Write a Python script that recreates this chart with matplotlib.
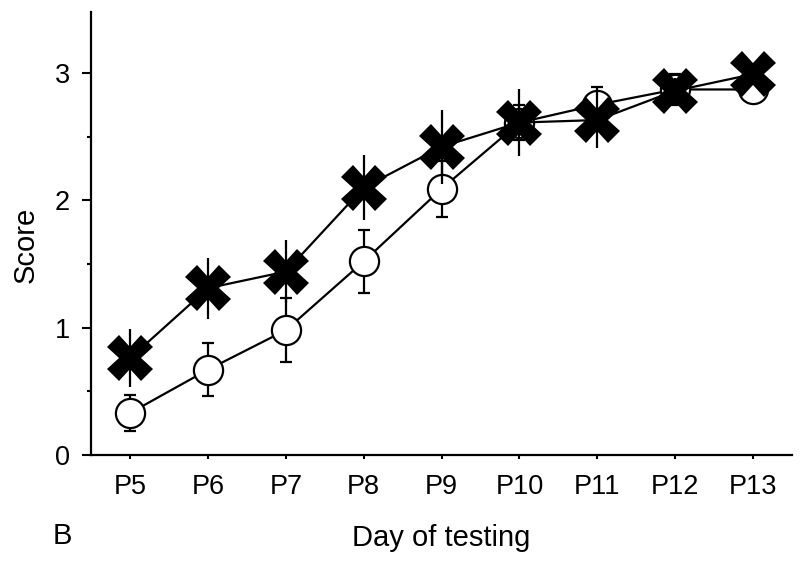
import matplotlib
matplotlib.use("Agg")
import matplotlib.pyplot as plt
from matplotlib.ticker import MultipleLocator

plt.rcParams['font.family'] = ['Liberation Sans', 'DejaVu Sans']

# data
days = ['P5', 'P6', 'P7', 'P8', 'P9', 'P10', 'P11', 'P12', 'P13']
circle_mean = [0.33, 0.67, 0.98, 1.52, 2.09, 2.61, 2.75, 2.87, 2.87]
circle_err = [0.14, 0.21, 0.25, 0.245, 0.22, 0.14, 0.14, 0.12, 0.0]
cross_mean = [0.76, 1.31, 1.44, 2.10, 2.42, 2.61, 2.63, 2.86, 2.99]
cross_err = [0.23, 0.24, 0.25, 0.255, 0.29, 0.26, 0.22, 0.10, 0.0]

x = list(range(len(days)))

fig = plt.figure(figsize=(8, 5.61), dpi=100)
ax = fig.add_axes([0.114, 0.189, 0.876, 0.79])

# open circles
ax.errorbar(x, circle_mean, yerr=circle_err, color='black', lw=1.6,
            elinewidth=1.6, capsize=4, capthick=1.6,
            marker='o', markersize=21, markerfacecolor='white',
            markeredgecolor='black', markeredgewidth=1.6, zorder=2)

# filled crosses
ax.errorbar(x, cross_mean, yerr=cross_err, color='black', lw=1.6,
            elinewidth=1.6, capsize=4, capthick=1.6,
            marker='X', markersize=33, markerfacecolor='black',
            markeredgecolor='black', markeredgewidth=0, zorder=3)

ax.set_xlim(-0.5, 8.5)
ax.set_ylim(0, 3.48)
ax.set_xticks(x)
ax.set_xticklabels(days)
ax.yaxis.set_major_locator(MultipleLocator(1))
ax.yaxis.set_minor_locator(MultipleLocator(0.5))

for s in ['top', 'right']:
    ax.spines[s].set_visible(False)
for s in ['left', 'bottom']:
    ax.spines[s].set_linewidth(1.6)

ax.tick_params(axis='y', which='major', length=6.5, width=1.5, pad=9,
               labelsize=19.5)
ax.tick_params(axis='y', which='minor', length=3, width=1.5)
ax.tick_params(axis='x', which='major', length=3, width=1.5, pad=11,
               labelsize=19.5)

ax.set_xlabel('Day of testing', fontsize=21, labelpad=17)
ax.set_ylabel('Score', fontsize=21)
ax.yaxis.set_label_coords(-0.073, 0.475)

fig.text(0.078, 0.045, 'B', fontsize=21, ha='center', va='center')

fig.savefig('out.png', dpi=100)
